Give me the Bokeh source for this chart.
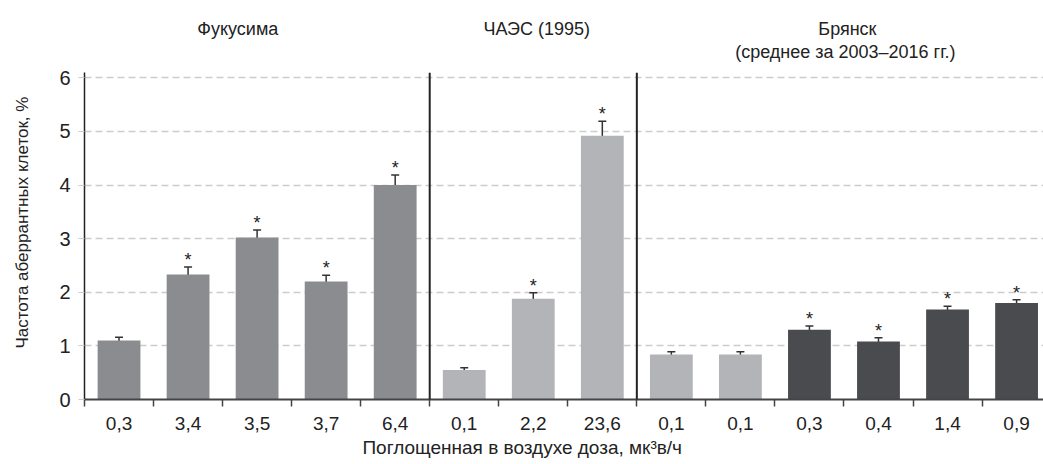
from bokeh.plotting import figure
from bokeh.models import (Range1d, FixedTicker, Span, Whisker, ColumnDataSource, TeeHead,
                          LinearAxis)
from bokeh.core.properties import value
from bokeh.embed import file_html
from bokeh.resources import INLINE

# ---- data ----
dose_labels = ["0,3", "3,4", "3,5", "3,7", "6,4", "0,1", "2,2", "23,6",
               "0,1", "0,1", "0,3", "0,4", "1,4", "0,9"]
frequency = [1.10, 2.33, 3.02, 2.20, 4.00, 0.55, 1.88, 4.92,
             0.84, 0.84, 1.30, 1.08, 1.68, 1.80]
error = [0.06, 0.14, 0.14, 0.12, 0.19, 0.04, 0.11, 0.27,
         0.05, 0.05, 0.07, 0.07, 0.06, 0.06]
significant = [0, 1, 1, 1, 1, 0, 1, 1, 0, 0, 1, 1, 1, 1]
bar_group = ["fuk"] * 5 + ["chaes"] * 3 + ["bry_ctrl"] * 2 + ["bry"] * 4
group_titles = ["Фукусима", "ЧАЭС (1995)", "Брянск"]
group_title_pos = [2.22, 6.55, 11.05]
group_subtitle = "(среднее за 2003–2016 гг.)"
group_subtitle_pos = 11.02
separators = [5, 8]
y_ticks = [0, 1, 2, 3, 4, 5, 6]
y_title = "Частота аберрантных клеток, %"
y_title_pos = 3.30
x_title = "Поглощенная в воздухе доза, мк³в/ч"
x_title_pos = 6.34

palette = {"fuk": "#8b8c90", "chaes": "#b3b4b8", "bry_ctrl": "#b3b4b8", "bry": "#4a4b4e"}

xs = [i + 0.5 for i in range(len(frequency))]
src = ColumnDataSource(dict(
    x=xs, top=frequency,
    upper=[v + e for v, e in zip(frequency, error)],
    lower=[v - e for v, e in zip(frequency, error)],
    color=[palette[g] for g in bar_group],
))
sig_src = ColumnDataSource(dict(
    x=[x for x, s in zip(xs, significant) if s],
    y=[v + e for v, e, s in zip(frequency, error, significant) if s],
    t=["*"] * sum(significant),
))

W, H = 1043, 464
p = figure(width=W, height=H, x_range=Range1d(0, 13.89), y_range=Range1d(0, 6.1),
           output_backend="svg", toolbar_location=None,
           min_border_left=84, min_border_right=0, min_border_top=72, min_border_bottom=65)
p.outline_line_color = None
p.background_fill_color = "white"
p.border_fill_color = "white"

p.vbar(x="x", top="top", width=0.62, fill_color="color", line_color=None, source=src)

p.add_layout(Whisker(source=src, base="x", upper="upper", lower="lower",
                     line_color="#333333", line_width=1.5,
                     upper_head=TeeHead(size=8, line_color="#333333", line_width=1.5),
                     lower_head=TeeHead(size=8, line_color="#333333", line_width=1.5)))

p.text(x="x", y="y", text="t", source=sig_src, text_align="center",
       text_baseline="alphabetic", y_offset=-7, text_font_size="18px",
       text_font=value("Liberation Sans"), text_color="#222222")

for s in separators:
    p.add_layout(Span(location=s, dimension="height", line_color="#222222", line_width=2))

# main axes
p.xgrid.visible = False
p.ygrid.grid_line_color = "#cccccc"
p.ygrid.grid_line_dash = "7 4"
p.ygrid.grid_line_width = 1.5

p.yaxis.ticker = FixedTicker(ticks=y_ticks)
p.yaxis.axis_line_color = "#222222"
p.yaxis.axis_line_width = 1.5
p.yaxis.major_tick_out = 6
p.yaxis.major_tick_in = 0
p.yaxis.major_tick_line_color = "#cccccc"
p.yaxis.minor_tick_line_color = None
p.yaxis.major_label_text_font = "Liberation Sans"
p.yaxis.major_label_text_font_size = "20px"
p.yaxis.major_label_text_color = "#222222"
p.yaxis.major_label_standoff = 8

p.xaxis.ticker = FixedTicker(ticks=xs, minor_ticks=list(range(0, 15)))
p.xaxis.major_label_overrides = {x: l for x, l in zip(xs, dose_labels)}
p.xaxis.axis_line_color = "#444444"
p.xaxis.axis_line_width = 2
p.xaxis.major_tick_out = 0
p.xaxis.major_tick_in = 0
p.xaxis.minor_tick_out = 7
p.xaxis.minor_tick_in = 0
p.xaxis.minor_tick_line_color = "#444444"
p.xaxis.minor_tick_line_width = 1.5
p.xaxis.major_label_text_font = "Liberation Sans"
p.xaxis.major_label_text_font_size = "19px"
p.xaxis.major_label_text_color = "#222222"
p.xaxis.major_label_standoff = 10


def text_axis(ticks, labels, size, standoff, orientation="horizontal"):
    ax = LinearAxis(ticker=FixedTicker(ticks=ticks, minor_ticks=[]),
                    major_label_overrides={t: l for t, l in zip(ticks, labels)},
                    axis_line_color=None, major_tick_line_color=None,
                    minor_tick_line_color=None, major_tick_out=0, major_tick_in=0,
                    major_label_text_font="Liberation Sans",
                    major_label_text_font_size=size, major_label_text_color="#222222",
                    major_label_standoff=standoff, major_label_orientation=orientation)
    return ax


# top: subtitle row (closest to frame), then title row
p.add_layout(text_axis([group_subtitle_pos], [group_subtitle], "18px", 11), "above")
p.add_layout(text_axis(group_title_pos, group_titles, "18px", 0), "above")
# bottom: axis title
p.add_layout(text_axis([x_title_pos], [x_title], "19px", 4), "below")
# left: axis title
p.add_layout(text_axis([y_title_pos], [y_title], "17px", 24, "vertical"), "left")

open("out.html", "w").write(file_html(p, INLINE))
